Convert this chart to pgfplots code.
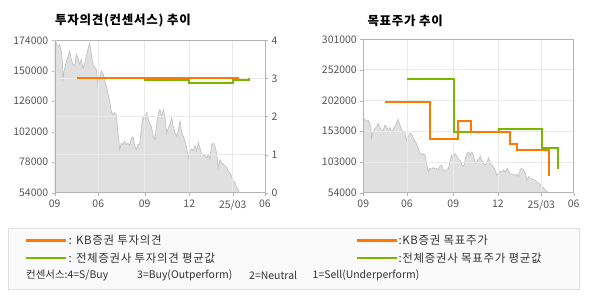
\documentclass[border=0pt]{standalone}
\usepackage{fontspec}
\setmainfont{Noto Sans CJK KR}
\usepackage{pgfplots}
\usepackage{pgfplotstable}
\pgfplotsset{compat=1.18}
\definecolor{kbor}{RGB}{255,120,0}
\definecolor{avggr}{RGB}{122,184,0}
\definecolor{pfill}{RGB}{224,224,224}
\definecolor{pline}{RGB}{195,195,195}
\definecolor{gridc}{RGB}{234,234,234}
\definecolor{axc}{RGB}{180,180,180}
\definecolor{tickc}{RGB}{85,85,85}
\definecolor{legtxt}{RGB}{51,51,51}

\pgfplotstableread{
x y
0 174000
1.6 172000
3.3 169000
5.0 170500
6.6 165000
7.6 158000
8.3 142000
9.0 148000
10.0 152000
11.6 157000
13.3 161000
15.0 165500
16.6 159000
18.3 155000
20.0 154000
21.6 163000
23.3 160000
25.0 155000
26.6 159000
28.3 152000
30.0 156000
31.6 161000
33.3 167000
35.0 172000
36.6 163000
38.3 155000
40.0 153000
41.6 151000
43.3 138000
45.0 145000
46.6 150000
48.3 148000
50.0 142000
51.6 138000
53.3 132000
55.0 126000
56.6 118000
58.3 115500
60.0 117000
61.6 115500
63.3 101000
65.0 88000
66.6 93000
68.3 92000
70.0 94500
71.6 92000
73.3 93000
75.0 91000
76.6 97000
78.3 98000
80.0 91000
81.6 88000
83.3 92000
85.0 92000
86.6 105000
88.3 114000
90.0 110000
91.6 117000
93.3 113000
95.0 108000
96.6 106500
98.6 98500
100.3 96000
102.0 108000
103.6 117000
105.3 119500
107.0 114000
108.6 119500
110.3 113000
112.0 101000
113.6 105000
115.3 108000
117.0 113000
118.6 106000
120.3 101000
122.0 98500
123.6 103000
125.3 110500
127.0 101000
128.6 98500
130.3 94500
132.0 89500
133.6 81500
135.3 87000
137.0 88500
138.6 87000
140.3 91000
142.0 87000
143.6 93500
145.3 89000
147.0 84000
148.6 84000
150.3 83000
152.0 81500
153.6 84000
155.3 80500
157.0 92000
158.6 93000
160.3 90500
162.0 85000
163.6 73500
165.3 80000
167.0 77500
168.6 76500
170.3 75000
172.0 74000
173.6 71000
175.3 69500
177.0 67000
178.6 63000
180.3 62000
182.0 58000
183.6 56500
184.6 54000
}\price

\pgfplotstableread{
x y
22 3
184.7 3
}\kbop

\pgfplotstableread{
x y
89.6 2.95
134.6 2.885
178 2.95
194.3 3.0
}\avgop

\pgfplotstableread{
x y
21.7 200000
66.7 140000
94.3 170000
107.7 152000
146.7 132000
153.3 122000
185.7 81000
}\kbtp

\pgfplotstableread{
x y
44 237500
90.7 152000
135.7 157000
178.7 126000
194.7 91700
}\avgtp

\pgfplotsset{
  base/.style={
    scale only axis,
    xmin=0, xmax=210.3,
    xtick={0,43.6,90,134.6,178,210.3},
    axis line style={axc},
    tick style={axc},
    tick align=outside,
    major tick length=3bp,
    tick label style={font=\fontsize{10.5}{12}\selectfont, text=tickc},
    scaled y ticks=false,
  },
}

\begin{document}
\begin{tikzpicture}
\path[use as bounding box] (0,0) rectangle (590bp,300bp);

% ---------- left chart: price layer ----------
\begin{axis}[base,
  at={(54.7bp,107.3bp)}, anchor=south west,
  width=210.3bp, height=152.4bp,
  ymin=54000, ymax=174000,
  ytick={54000,78000,102000,126000,150000,174000},
  yticklabels={54000,78000,102000,126000,150000,174000},
  ytick pos=left, xtick pos=bottom,
  xticklabels={09,06,09,12,25/03,06},
  xticklabel style={yshift=-1bp},
]
\addplot[fill=pfill, draw=none] table[x=x,y=y] {\price} \closedcycle;
\addplot[draw=pline, line width=0.7bp] table[x=x,y=y] {\price};
\end{axis}

% ---------- left chart: opinion layer ----------
\begin{axis}[base,
  at={(54.7bp,107.3bp)}, anchor=south west,
  width=210.3bp, height=152.4bp,
  ymin=0, ymax=4,
  ytick={0,1,2,3,4},
  yticklabels={0,1,2,3,4},
  ytick pos=right, yticklabel pos=right,
  xtick pos=bottom, xticklabels={},
  ymajorgrids, xmajorgrids,
  grid style={gridc, line width=0.8bp},
]
\addplot[const plot, avggr, line width=2bp] table[x=x,y=y] {\avgop};
\addplot[const plot, kbor, line width=2bp] table[x=x,y=y] {\kbop};
\end{axis}

% ---------- right chart: price layer ----------
\begin{axis}[base,
  at={(363.3bp,107.3bp)}, anchor=south west,
  width=210.3bp, height=153.4bp,
  ymin=54000, ymax=301000,
  ytick={54000,103000,153000,202000,252000,301000},
  yticklabels={54000,103000,153000,202000,252000,301000},
  ytick pos=left, xtick pos=bottom,
  xticklabels={09,06,09,12,25/03,06},
  xticklabel style={yshift=-1bp},
]
\addplot[fill=pfill, draw=none] table[x=x,y=y] {\price} \closedcycle;
\addplot[draw=pline, line width=0.7bp] table[x=x,y=y] {\price};
\end{axis}

% ---------- right chart: target price layer ----------
\begin{axis}[base,
  at={(363.3bp,107.3bp)}, anchor=south west,
  width=210.3bp, height=153.4bp,
  ymin=54000, ymax=301000,
  ytick={54000,103000,153000,202000,252000,301000},
  yticklabels={}, xticklabels={},
  ytick pos=left, xtick pos=bottom,
  ymajorgrids, xmajorgrids,
  grid style={gridc, line width=0.8bp},
]
\addplot[const plot, avggr, line width=2bp] table[x=x,y=y] {\avgtp};
\addplot[const plot, kbor, line width=2bp] table[x=x,y=y] {\kbtp};
\end{axis}

% ---------- titles ----------
\node[anchor=west, inner sep=0, font=\bfseries\fontsize{12.5}{14}\selectfont\addfontfeatures{LetterSpace=6}] at (55bp,279.3bp) {투자의견(컨센서스) 추이};
\node[anchor=west, inner sep=0, font=\bfseries\fontsize{12.5}{14}\selectfont\addfontfeatures{LetterSpace=6}] at (367.3bp,279.3bp) {목표주가 추이};

% ---------- legend box ----------
\draw[draw={rgb,255:red,224;green,224;blue,224}, fill={rgb,255:red,250;green,250;blue,250}, line width=0.8bp]
  (8.3bp,10.7bp) rectangle (579.3bp,72bp);
\draw[kbor, line width=2.7bp] (26bp,59.7bp) -- (65.7bp,59.7bp);
\draw[avggr, line width=2.7bp] (26bp,42bp) -- (65.7bp,42bp);
\draw[kbor, line width=2.7bp] (356.7bp,59.7bp) -- (396.7bp,59.7bp);
\draw[avggr, line width=2.7bp] (356.7bp,42bp) -- (396.7bp,42bp);
\begin{scope}[every node/.style={anchor=west, inner sep=0, text=legtxt, font=\fontsize{11.5}{13}\selectfont\addfontfeatures{LetterSpace=6}}]
\node at (68.3bp,59.7bp) {: KB증권 투자의견};
\node at (68.3bp,42bp) {: 전체증권사 투자의견 평균값};
\node at (398.3bp,59.7bp) {:KB증권 목표주가};
\node at (398.3bp,42bp) {:전체증권사 목표주가 평균값};
\node[font=\fontsize{10.5}{12}\selectfont] at (26bp,24.7bp) {컨센서스:4=S/Buy};
\node[font=\fontsize{10.5}{12}\selectfont] at (137bp,24.7bp) {3=Buy(Outperform)};
\node[font=\fontsize{10.5}{12}\selectfont] at (249bp,24.7bp) {2=Neutral};
\node[font=\fontsize{10.5}{12}\selectfont] at (312.5bp,24.7bp) {1=Sell(Underperform)};
\end{scope}
\end{tikzpicture}
\end{document}
